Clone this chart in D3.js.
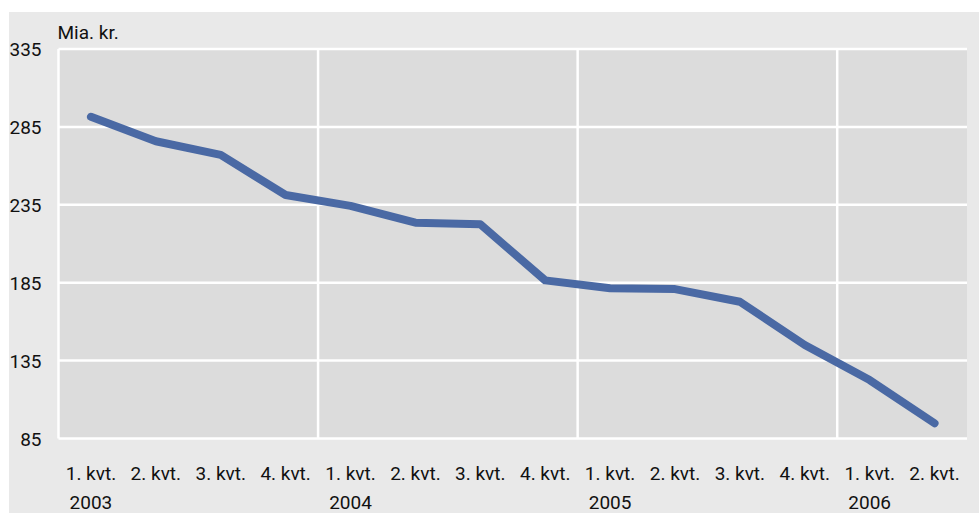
<!DOCTYPE html>
<html>
<head>
<meta charset="utf-8">
<script src="https://cdn.jsdelivr.net/npm/d3@7"></script>
<style>
  body { margin: 0; background: #fff; }
  svg text { font-family: Roboto, "Open Sans", sans-serif; font-size: 19px; fill: #111; }
</style>
</head>
<body>
<div id="chart"></div>
<script>
// data
const quarters = ["1. kvt.", "2. kvt.", "3. kvt.", "4. kvt.",
                  "1. kvt.", "2. kvt.", "3. kvt.", "4. kvt.",
                  "1. kvt.", "2. kvt.", "3. kvt.", "4. kvt.",
                  "1. kvt.", "2. kvt."];
const years = ["2003", "2004", "2005", "2006"];
const values = [291.5, 275.8, 267, 241.3, 234.3, 223.5, 222.5, 186.5, 181.4, 180.9, 172.8, 145, 122.5, 94.8];
const yTicks = [85, 135, 185, 235, 285, 335];
const unitLabel = "Mia. kr.";

const width = 979, height = 513;
const margin = { top: 49, right: 12, bottom: 74.5, left: 58.5 };

const svg = d3.select("#chart")
    .append("svg")
    .attr("width", width)
    .attr("height", height);

// outer panel
svg.append("rect")
    .attr("x", 9).attr("y", 12)
    .attr("width", width - 9).attr("height", height - 12)
    .attr("fill", "#e9e9e9");

const x = d3.scaleBand()
    .domain(d3.range(quarters.length))
    .range([margin.left, width - margin.right])
    .padding(0);

const y = d3.scaleLinear()
    .domain([85, 335])
    .range([height - margin.bottom, margin.top]);

// plot area
svg.append("rect")
    .attr("x", margin.left)
    .attr("y", margin.top)
    .attr("width", width - margin.right - margin.left)
    .attr("height", height - margin.bottom - margin.top)
    .attr("fill", "#dcdcdc");

// horizontal grid
svg.selectAll(".hgrid")
    .data(yTicks)
    .enter()
    .append("line")
    .attr("class", "hgrid")
    .attr("x1", margin.left)
    .attr("x2", width - margin.right)
    .attr("y1", d => y(d))
    .attr("y2", d => y(d))
    .attr("stroke", "#fff")
    .attr("stroke-width", 2.5);

// vertical grid between years + left edge
const yearStarts = years.map((d, i) => i * 4);
svg.selectAll(".vgrid")
    .data(yearStarts)
    .enter()
    .append("line")
    .attr("class", "vgrid")
    .attr("x1", d => x(d))
    .attr("x2", d => x(d))
    .attr("y1", margin.top)
    .attr("y2", height - margin.bottom)
    .attr("stroke", "#fff")
    .attr("stroke-width", 2.5);

// y axis labels
const yAxis = d3.axisLeft(y).tickValues(yTicks).tickSize(0).tickPadding(17);
const gy = svg.append("g")
    .attr("transform", "translate(" + margin.left + ",0)")
    .call(yAxis);
gy.select(".domain").remove();
gy.selectAll("text").attr("font-family", null).attr("font-size", null).attr("dy", "0.36em");

// x axis labels
const xAxis = d3.axisBottom(x).tickFormat(i => quarters[i]).tickSize(0);
const gx = svg.append("g")
    .attr("transform", "translate(0," + (height - margin.bottom) + ")")
    .call(xAxis);
gx.select(".domain").remove();
gx.selectAll("text")
    .attr("font-family", null).attr("font-size", null)
    .attr("dy", null)
    .attr("y", 480 - (height - margin.bottom));

svg.selectAll(".year")
    .data(years)
    .enter()
    .append("text")
    .attr("class", "year")
    .attr("x", (d, i) => x(yearStarts[i]) + x.bandwidth() / 2)
    .attr("y", 508.5)
    .attr("text-anchor", "middle")
    .text(d => d);

svg.append("text")
    .attr("x", margin.left - 1)
    .attr("y", 39)
    .text(unitLabel);

// line
const line = d3.line()
    .x((d, i) => x(i) + x.bandwidth() / 2)
    .y(d => y(d));

svg.append("path")
    .datum(values)
    .attr("d", line)
    .attr("fill", "none")
    .attr("stroke", "#4a69a4")
    .attr("stroke-width", 8)
    .attr("stroke-linecap", "round")
    .attr("stroke-linejoin", "round");
</script>
</body>
</html>
